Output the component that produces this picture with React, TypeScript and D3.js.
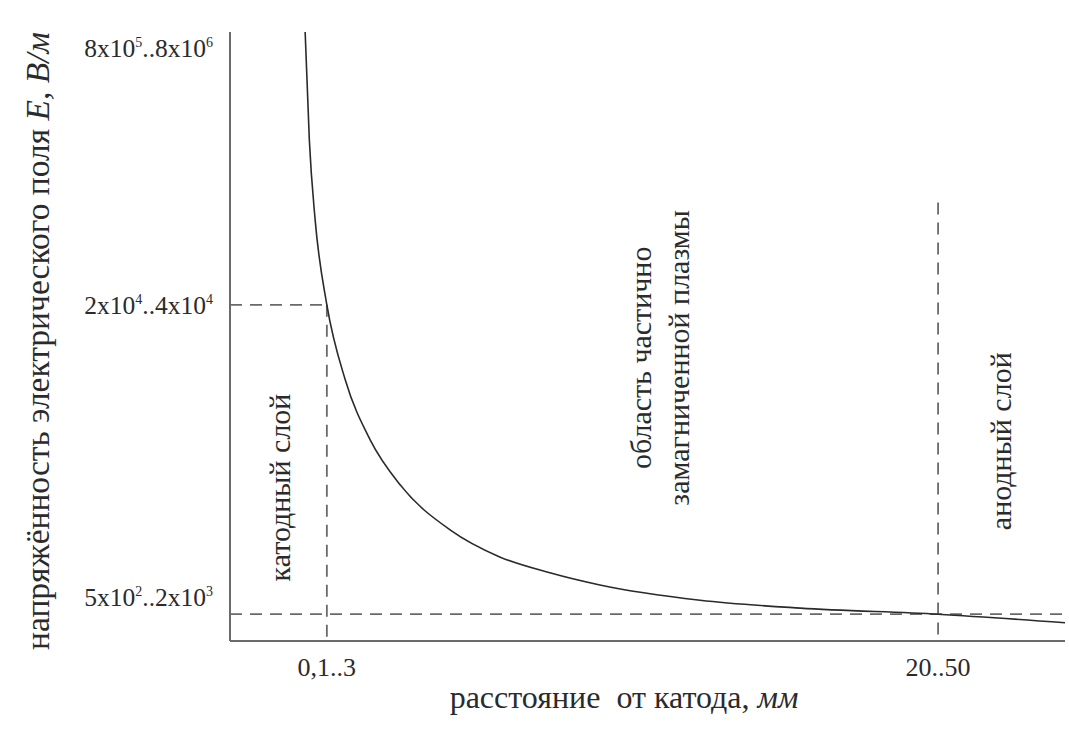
import React from "react";
import * as d3 from "d3";

// Schematic units: x 0..100 along the axis, y 0..100 up the axis
const curveX = [9.0, 9.5, 10.2, 11.6, 13.8, 16.8, 20.4, 26.4, 32.3, 38.3, 44.3, 56.3, 68.3, 84.8, 100];
const curveY = [100, 82.3, 69.1, 55.2, 42.9, 33.0, 25.6, 18.2, 13.8, 11.2, 9.2, 6.7, 5.4, 4.4, 3.0];

const yTickValues = [100, 55.2, 4.4];
const yTickParts: [string, string, string, string][] = [
  ["8x10", "5", "..8x10", "6"],
  ["2x10", "4", "..4x10", "4"],
  ["5x10", "2", "..2x10", "3"],
];
const xTickValues = [11.6, 84.8];
const xTickLabels = ["0,1..3", "20..50"];

const regionLabels = ["катодный слой", "область частично", "замагниченной плазмы", "анодный слой"];
const regionX = [5.9, 49.2, 53.7, 92.3];
const regionY = [25.2, 46.5, 46.5, 32.8];

const xAxisTitle = "расстояние\u00a0\u00a0от катода, ";
const xAxisUnit = "мм";
const yAxisTitle = "напряжённость электрического поля ";
const yAxisUnit = "E, B/м";

export default function App() {
  const W = 1069, H = 734;
  const x = d3.scaleLinear().domain([0, 100]).range([230, 1065]);
  const y = d3.scaleLinear().domain([0, 100]).range([641, 32]);
  const pts = curveX.map((v, i) => [x(v), y(curveY[i])] as [number, number]);
  const line = d3.line().curve(d3.curveMonotoneX)(pts) || "";
  const font = "'Liberation Serif', 'Times New Roman', Times, serif";
  const textColor = "#2b2b2b";
  const axisColor = "#6a6a6a";
  const dash = "12 8";

  return (
    <svg width={W} height={H} style={{ position: "absolute", left: 0, top: 0, background: "#fff" }} fontFamily={font}>
      {/* axes */}
      <line x1={x(0)} y1={y(100)} x2={x(0)} y2={y(0)} stroke={axisColor} strokeWidth={2} />
      <line x1={x(0)} y1={y(0)} x2={x(100)} y2={y(0)} stroke={axisColor} strokeWidth={2} />

      {/* dashed guides */}
      <line x1={x(0)} y1={y(yTickValues[1])} x2={x(xTickValues[0])} y2={y(yTickValues[1])} stroke={axisColor} strokeWidth={1.8} strokeDasharray={dash} />
      <line x1={x(xTickValues[0])} y1={y(yTickValues[1])} x2={x(xTickValues[0])} y2={y(0)} stroke={axisColor} strokeWidth={1.8} strokeDasharray={dash} />
      <line x1={x(0)} y1={y(yTickValues[2])} x2={x(100)} y2={y(yTickValues[2])} stroke={axisColor} strokeWidth={1.8} strokeDasharray={dash} />
      <line x1={x(xTickValues[1])} y1={y(72)} x2={x(xTickValues[1])} y2={y(0)} stroke={axisColor} strokeWidth={1.8} strokeDasharray={dash} />

      {/* curve */}
      <path d={line} fill="none" stroke="#2a2a2a" strokeWidth={1.6} />

      {/* y tick labels */}
      {yTickValues.map((v, i) => {
        const off = i === 0 ? 16 : i === 2 ? -17 : 0;
        const p = yTickParts[i];
        return (
          <text key={i} x={x(0) - 17} y={y(v) + off} dy="0.35em" textAnchor="end" fontSize={25.5} fill={textColor} fontFamily={font}>
            {p[0]}
            <tspan fontSize={14} dy={-10}>{p[1]}</tspan>
            <tspan fontSize={25.5} dy={10}>{p[2]}</tspan>
            <tspan fontSize={14} dy={-10}>{p[3]}</tspan>
          </text>
        );
      })}

      {/* x tick labels */}
      {xTickValues.map((v, i) => (
        <text key={i} x={x(v)} y={y(0) + 26} dy="0.35em" textAnchor="middle" fontSize={26} fill={textColor} fontFamily={font}>
          {xTickLabels[i]}
        </text>
      ))}

      {/* region labels */}
      {regionLabels.map((t, i) => (
        <text key={i} transform={`translate(${x(regionX[i])},${y(regionY[i])}) rotate(-90)`} textAnchor="middle" dy="0.35em" fontSize={30} fill={textColor} fontFamily={font}>
          {t}
        </text>
      ))}

      {/* axis titles */}
      <text x={624} y={697} dy="0.35em" textAnchor="middle" fontSize={32} fill={textColor} fontFamily={font}>
        {xAxisTitle}
        <tspan fontStyle="italic">{xAxisUnit}</tspan>
      </text>
      <text transform={`translate(37,341) rotate(-90)`} textAnchor="middle" dy="0.35em" fontSize={33.5} fill={textColor} fontFamily={font}>
        {yAxisTitle}
        <tspan fontStyle="italic">{yAxisUnit}</tspan>
      </text>
    </svg>
  );
}
